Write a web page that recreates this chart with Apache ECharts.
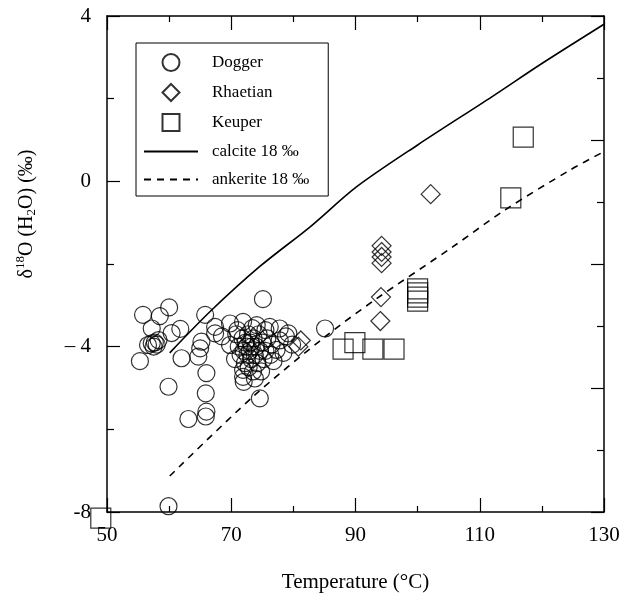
<!DOCTYPE html>
<html>
<head>
<meta charset="utf-8">
<script src="https://cdn.jsdelivr.net/npm/echarts@6/dist/echarts.min.js"></script>
<style>html,body{margin:0;padding:0;background:#fff;}#c{width:627px;height:603px;}</style>
</head>
<body>
<div id="c"></div>
<script>
// ---- data (Temperature °C, δ18O water ‰) ----
const dogger = [
  [55.8,-3.23],[58.5,-3.26],[60.0,-3.05],[57.2,-3.56],[61.8,-3.57],[60.4,-3.67],
  [56.6,-3.96],[57.2,-3.92],[57.7,-3.90],[58.3,-3.84],[57.5,-4.0],[58.0,-3.95],
  [55.3,-4.35],[59.9,-4.97],[62.0,-4.28],[64.7,-4.24],[65.0,-4.04],[65.2,-3.88],
  [65.8,-3.23],[66.0,-4.64],[65.9,-5.13],[66.0,-5.57],[65.9,-5.69],[67.4,-3.68],
  [63.1,-5.75],[59.9,-7.86],
  [67.4,-3.52],[69.8,-3.44],[71.9,-3.40],[74.1,-3.48],[76.2,-3.52],[77.8,-3.56],
  [79.2,-3.68],[69.8,-3.96],[68.5,-3.75],[75.1,-2.85],[85.1,-3.56],
  [70.8,-3.7],[71.2,-4.0],[71.5,-4.2],[71.8,-3.8],[72.0,-4.1],[72.2,-4.4],
  [72.3,-3.9],[72.5,-4.0],[72.6,-4.2],[72.7,-3.7],[72.8,-4.5],[73.0,-4.1],
  [73.1,-3.9],[73.2,-4.3],[73.3,-4.0],[73.5,-4.6],[73.6,-3.8],[73.8,-4.2],
  [74.0,-4.0],[74.2,-4.4],[74.4,-3.7],[74.6,-4.1],[75.0,-3.9],[75.2,-4.3],
  [75.5,-4.1],[75.8,-3.8],[76.3,-4.2],[71.9,-4.56],[71.9,-4.73],[72.0,-4.85],
  [73.8,-4.77],[74.6,-5.25],[77.3,-4.08],[77.8,-3.85],[78.4,-4.15],[76.8,-4.35],
  [79.8,-3.95],[70.6,-4.3],[71.0,-3.6],[73.4,-3.55],[75.5,-3.6],[76.5,-3.95],
  [74.8,-4.6],[78.8,-3.75]
];
const rhaetian = [
  [102.1,-0.31],[94.2,-1.56],[94.2,-1.71],[94.2,-1.83],[94.2,-1.98],
  [94.1,-2.8],[94.0,-3.38],[81.2,-3.85],[80.8,-4.0]
];
const keuper = [
  [117.0,1.07],[115.0,-0.40],[100.0,-2.6],[100.0,-2.7],[100.0,-2.8],[100.0,-2.9],
  [88.0,-4.06],[89.9,-3.9],[92.8,-4.06],[96.2,-4.06],[49.0,-8.15]
];
const calcite18 = [
  [60.1,-4.15],[66.6,-3.15],[74.6,-2.06],[82.7,-1.10],[90.2,-0.13],
  [100,0.88],[112,2.05],[120,2.85],[130,3.8]
];
const ankerite18 = [
  [60.1,-7.13],[73.5,-5.21],[85.1,-3.76],[93.1,-2.87],[105.7,-1.58],
  [114.1,-0.69],[124.5,0.27],[130,0.72]
];
const xTickLabels = ['50','70','90','110','130'];
const yTickLabels = {'4':'4','0':'0','-4':'\u2013 4','-8':'-8'};

const FONT = 'Liberation Serif';
const BLACK = '#000';
const axisLineStyle = {show:true, onZero:false, lineStyle:{color:BLACK, width:1.5}};

const chart = echarts.init(document.getElementById('c'), null, {renderer:'canvas'});
const hollow = {color:'rgba(0,0,0,0)', borderColor:BLACK, borderWidth:1.2};
const noSymbol = {color:'rgba(0,0,0,0)', borderColor:'rgba(0,0,0,0)', borderWidth:0};

chart.setOption({
  backgroundColor:'#fff',
  animation:false,
  grid:{left:107, right:23, top:16, bottom:91},
  legend:{
    orient:'vertical', left:136, top:43,
    padding:[10,19,8,7], itemGap:11, itemWidth:54, itemHeight:17,
    borderColor:BLACK, borderWidth:1,
    symbolKeepAspect:true,
    textStyle:{fontFamily:FONT, fontSize:17, color:BLACK, lineHeight:17, padding:[0,0,0,9]},
    data:[
      {name:'Dogger', icon:'circle'},
      {name:'Rhaetian', icon:'path://M0,-1L1,0L0,1L-1,0Z'},
      {name:'Keuper', icon:'path://M0,0H1V1H0Z'},
      {name:'calcite 18 \u2030', itemStyle:noSymbol},
      {name:'ankerite 18 \u2030', itemStyle:noSymbol}
    ]
  },
  xAxis:[
    {type:'value', min:50, max:130, show:false},
    {type:'value', position:'bottom', min:0, max:80, interval:20,
     axisLine:axisLineStyle,
     axisTick:{show:true, inside:true, length:14, lineStyle:{color:BLACK, width:1.2}},
     minorTick:{show:true, splitNumber:2, length:6, lineStyle:{color:BLACK, width:1.2}},
     splitLine:{show:false},
     axisLabel:{margin:13, color:BLACK, fontFamily:FONT, fontSize:21,
       formatter:(v)=>xTickLabels[Math.round(v/20)]},
     name:'Temperature (\u00B0C)', nameLocation:'middle', nameGap:60,
     nameTextStyle:{fontFamily:FONT, fontSize:21, color:BLACK}},
    {type:'value', position:'top', min:0, max:80, interval:20,
     axisLine:axisLineStyle,
     axisTick:{show:true, inside:true, length:14, lineStyle:{color:BLACK, width:1.2}},
     minorTick:{show:true, splitNumber:2, length:6, lineStyle:{color:BLACK, width:1.2}},
     splitLine:{show:false}, axisLabel:{show:false}}
  ],
  yAxis:[
    {type:'value', position:'left', min:-8, max:4, interval:4,
     axisLine:axisLineStyle,
     axisTick:{show:true, inside:true, length:13, lineStyle:{color:BLACK, width:1.2}},
     minorTick:{show:true, splitNumber:2, length:7, lineStyle:{color:BLACK, width:1.2}},
     splitLine:{show:false},
     axisLabel:{margin:16, color:BLACK, fontFamily:FONT, fontSize:21,
       formatter:(v)=>yTickLabels[String(v)]},
     name:'{n|\u03B4}{sup|18}{n|O (H}{sub|2}{n|O) (\u2030)}',
     nameLocation:'middle', nameRotate:90, nameGap:68,
     nameTextStyle:{fontFamily:FONT, fontSize:20, color:BLACK, padding:[0,0,0,100],
       rich:{
         n:{fontFamily:FONT, fontSize:20, color:BLACK},
         sup:{fontFamily:FONT, fontSize:13, color:BLACK, padding:[0,0,12,0]},
         sub:{fontFamily:FONT, fontSize:13, color:BLACK, padding:[10,0,0,0]}
       }}},
    {type:'value', position:'right', min:0, max:12, interval:3,
     axisLine:axisLineStyle,
     axisTick:{show:true, inside:true, length:13, lineStyle:{color:BLACK, width:1.2}},
     minorTick:{show:true, splitNumber:2, length:7, lineStyle:{color:BLACK, width:1.2}},
     splitLine:{show:false}, axisLabel:{show:false}}
  ],
  series:[
    {name:'Dogger', type:'scatter', xAxisIndex:0, yAxisIndex:0, symbol:'circle', symbolSize:17,
     itemStyle:hollow, data:dogger, z:3},
    {name:'Rhaetian', type:'scatter', xAxisIndex:0, yAxisIndex:0, symbol:'diamond', symbolSize:19,
     itemStyle:hollow, data:rhaetian, z:3},
    {name:'Keuper', type:'scatter', xAxisIndex:0, yAxisIndex:0, symbol:'rect', symbolSize:20,
     itemStyle:hollow, data:keuper, clip:false, z:3},
    {name:'calcite 18 \u2030', type:'line', xAxisIndex:0, yAxisIndex:0, symbol:'none', smooth:0.3,
     lineStyle:{color:BLACK, width:1.6, type:'solid'}, itemStyle:{color:BLACK}, data:calcite18, z:2},
    {name:'ankerite 18 \u2030', type:'line', xAxisIndex:0, yAxisIndex:0, symbol:'none', smooth:0.3,
     lineStyle:{color:BLACK, width:1.6, type:[7,6]}, itemStyle:{color:BLACK}, data:ankerite18, z:2}
  ]
});
</script>
</body>
</html>
